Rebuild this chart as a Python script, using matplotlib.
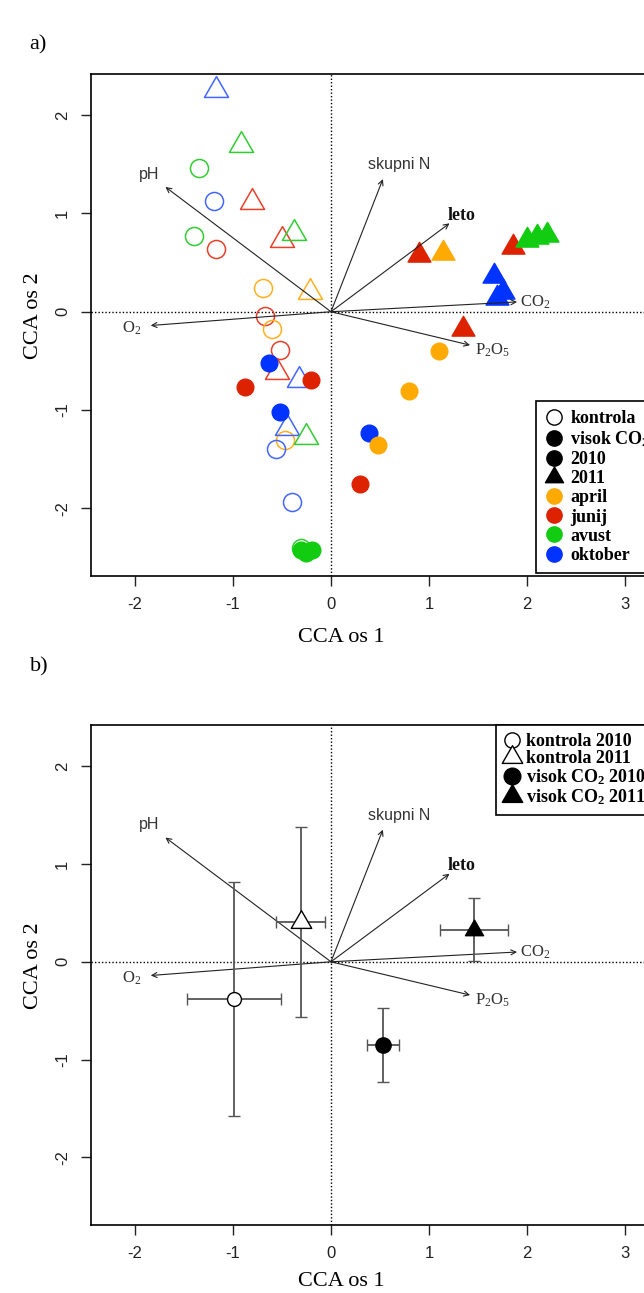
#%% Importing libraries

import numpy as np
import matplotlib
matplotlib.use('Agg')
from matplotlib import pyplot as plt
from matplotlib.lines import Line2D
from matplotlib.path import Path

#%% Fonts (Times-like for labels, Arial-like for ticks)

plt.rcParams['font.family'] = ['Liberation Sans', 'DejaVu Sans']
plt.rcParams['mathtext.fontset'] = 'custom'
plt.rcParams['mathtext.rm'] = 'Liberation Serif'
plt.rcParams['mathtext.it'] = 'Liberation Serif:italic'
plt.rcParams['mathtext.bf'] = 'Liberation Serif:bold'
plt.rcParams['axes.unicode_minus'] = False

#%% Data

months = ['april', 'junij', 'avust', 'oktober']
month_col = {'april': '#FFAA00', 'junij': '#DD2200', 'avust': '#11CC11', 'oktober': '#0033FF'}
open_col = {'april': '#FFB020', 'junij': '#E8402A', 'avust': '#33CC33', 'oktober': '#4466FF'}

# kontrola 2010 (open circles)
k10_x = [-1.35, -1.19, -1.40, -1.17, -0.69, -0.67, -0.60, -0.52, -0.47, -0.56, -0.40, -0.31]
k10_y = [1.46, 1.13, 0.77, 0.64, 0.24, -0.04, -0.18, -0.39, -1.31, -1.40, -1.94, -2.40]
k10_m = ['avust', 'oktober', 'avust', 'junij', 'april', 'junij', 'april', 'junij', 'april', 'oktober', 'oktober', 'avust']

# kontrola 2011 (open triangles)
k11_x = [-1.17, -0.92, -0.81, -0.50, -0.38, -0.21, -0.55, -0.33, -0.45, -0.26]
k11_y = [2.26, 1.70, 1.12, 0.73, 0.80, 0.20, -0.61, -0.69, -1.18, -1.27]
k11_m = ['oktober', 'avust', 'junij', 'junij', 'avust', 'april', 'junij', 'oktober', 'oktober', 'avust']

# visok CO2 2010 (filled circles)
v10_x = [-0.63, -0.20, -0.88, -0.52, -0.31, -0.25, -0.19, 0.39, 0.48, 0.30, 0.80, 1.10]
v10_y = [-0.52, -0.69, -0.77, -1.02, -2.43, -2.46, -2.43, -1.23, -1.36, -1.75, -0.81, -0.40]
v10_m = ['oktober', 'junij', 'junij', 'oktober', 'avust', 'avust', 'avust', 'oktober', 'april', 'junij', 'april', 'april']

# visok CO2 2011 (filled triangles)
v11_x = [0.90, 1.14, 1.86, 2.00, 2.10, 2.21, 1.66, 1.76, 1.70, 1.35]
v11_y = [0.58, 0.60, 0.66, 0.73, 0.76, 0.78, 0.36, 0.20, 0.14, -0.18]
v11_m = ['junij', 'april', 'junij', 'avust', 'avust', 'avust', 'oktober', 'oktober', 'oktober', 'junij']

# environmental vectors
env_lab = ['pH', 'O$_2$', 'skupni N', 'leto', 'CO$_2$', 'P$_2$O$_5$']
env_x = [-1.69, -1.84, 0.53, 1.21, 1.90, 1.42]
env_y = [1.27, -0.14, 1.35, 0.90, 0.10, -0.34]
lab_x = [-1.86, -2.03, 0.70, 1.33, 2.08, 1.65]
lab_y = [1.40, -0.17, 1.50, 0.98, 0.10, -0.39]

# group means with errors (panel b)
grp_lab = ['kontrola 2010', 'kontrola 2011', 'visok CO$_\\mathbf{2}$ 2010', 'visok CO$_\\mathbf{2}$ 2011']
grp_x = [-0.99, -0.31, 0.53, 1.46]
grp_y = [-0.38, 0.41, -0.85, 0.33]
grp_dx = [0.48, 0.25, 0.16, 0.35]
grp_dy = [1.20, 0.97, 0.38, 0.32]

#%% Plot settings

W, H = 644, 1293
tri = Path([(-1, -0.577), (1, -0.577), (0, 1.155), (-1, -0.577)],
           [Path.MOVETO, Path.LINETO, Path.LINETO, Path.CLOSEPOLY])
xlim = (-2.45, 3.40)
ylim = (-2.69, 2.42)
serif = 'Liberation Serif'

fig = plt.figure(figsize=(6.44, 12.93), dpi=100)

def make_axes(top_px, bot_px):
    ax = fig.add_axes([91/W, 1-bot_px/H, (664-91)/W, (bot_px-top_px)/H])
    ax.set_xlim(xlim)
    ax.set_ylim(ylim)
    ax.set_xticks([-2, -1, 0, 1, 2, 3])
    ax.set_yticks([-2, -1, 0, 1, 2])
    ax.tick_params(direction='out', length=7, width=1, labelsize=12, colors='#222')
    ax.tick_params(axis='x', pad=8)
    ax.tick_params(axis='y', pad=8, labelrotation=90)
    for lab in ax.get_yticklabels():
        lab.set_va('center')
    for s in ax.spines.values():
        s.set_linewidth(1.2)
    ax.axhline(0, ls=(0, (1, 1.5)), color='k', lw=1, zorder=0)
    ax.axvline(0, ls=(0, (1, 1.5)), color='k', lw=1, zorder=0)
    for i in range(len(env_lab)):
        ax.annotate('', xy=(env_x[i], env_y[i]), xytext=(0, 0),
                    arrowprops=dict(arrowstyle='->', lw=0.8, color='#222', shrinkA=0, shrinkB=0, mutation_scale=9))
        if env_lab[i] in ('pH', 'skupni N'):
            ax.text(lab_x[i], lab_y[i], env_lab[i], fontsize=11.5, color='#333', ha='center', va='center')
        elif env_lab[i] == 'leto':
            ax.text(lab_x[i], lab_y[i], env_lab[i], fontsize=13, family=serif, weight='bold', color='#111', ha='center', va='center')
        else:
            ax.text(lab_x[i], lab_y[i], env_lab[i], fontsize=12, family=serif, color='#333', ha='center', va='center')
    return ax

#%% Panel a)

ax1 = make_axes(74, 576)

for x, y, m in zip(k10_x, k10_y, k10_m):
    ax1.plot(x, y, ls='none', marker='o', ms=13, mfc='none', mec=open_col[m], mew=1.1)
for x, y, m in zip(k11_x, k11_y, k11_m):
    ax1.plot(x, y, ls='none', marker=tri, ms=20, mfc='none', mec=open_col[m], mew=1.1)
for x, y, m in zip(v10_x, v10_y, v10_m):
    ax1.plot(x, y, ls='none', marker='o', ms=12, mfc=month_col[m], mec=month_col[m])
for x, y, m in zip(v11_x, v11_y, v11_m):
    ax1.plot(x, y, ls='none', marker=tri, ms=19, mfc=month_col[m], mec=month_col[m])

h1 = [Line2D([], [], ls='none', marker='o', ms=11, mfc='white', mec='k', label='kontrola'),
      Line2D([], [], ls='none', marker='o', ms=11, color='k', label='visok CO$_\\mathbf{2}$'),
      Line2D([], [], ls='none', marker='o', ms=11, color='k', label='2010'),
      Line2D([], [], ls='none', marker=tri, ms=15, color='k', label='2011')]
for m in months:
    h1.append(Line2D([], [], ls='none', marker='o', ms=11, color=month_col[m], label=m))
leg1 = ax1.legend(handles=h1, loc='upper left', bbox_to_anchor=(536/W, 1-401/H), bbox_transform=fig.transFigure,
                  borderaxespad=0, fancybox=False, framealpha=1, edgecolor='k',
                  prop={'family': serif, 'weight': 'bold', 'size': 13},
                  handlelength=1.0, handletextpad=0.4, labelspacing=0.12, borderpad=0.5)
leg1.get_frame().set_linewidth(1.2)

#%% Panel b)

ax2 = make_axes(725, 1225)

mk = ['o', tri, 'o', tri]
ms = [10, 17, 11, 15]
fc = ['white', 'white', 'k', 'k']
for i in range(4):
    ax2.errorbar(grp_x[i], grp_y[i], xerr=grp_dx[i], yerr=grp_dy[i], ls='none', ecolor='#555',
                 elinewidth=1.3, capsize=4, capthick=1.3, marker=mk[i], ms=ms[i], mfc=fc[i], mec='k', mew=1, zorder=3)

h2 = [Line2D([], [], ls='none', marker=mk[i], ms=[11, 17, 12, 17][i], mfc=fc[i], mec='k', label=grp_lab[i]) for i in range(4)]
leg2 = ax2.legend(handles=h2, loc='upper left', bbox_to_anchor=(496/W, 1-725/H), bbox_transform=fig.transFigure,
                  borderaxespad=0, fancybox=False, framealpha=1, edgecolor='k',
                  prop={'family': serif, 'weight': 'bold', 'size': 13},
                  handlelength=0.9, handletextpad=0.3, labelspacing=0.0, borderpad=0.45)
leg2.get_frame().set_linewidth(1.2)

#%% Labels

for y_lab, y_x, y_y in [('a)', 38, 45), ('b)', 39, 667)]:
    fig.text(y_x/W, 1-y_y/H, y_lab, family=serif, fontsize=16, ha='center', va='center')
for yy in [638, 1281]:
    fig.text(341/W, 1-yy/H, 'CCA os 1', family=serif, fontsize=16, ha='center', va='center')
for yy in [316, 966]:
    fig.text(33/W, 1-yy/H, 'CCA os 2', family=serif, fontsize=16, ha='center', va='center', rotation=90)

plt.savefig('out.png', dpi=100)
